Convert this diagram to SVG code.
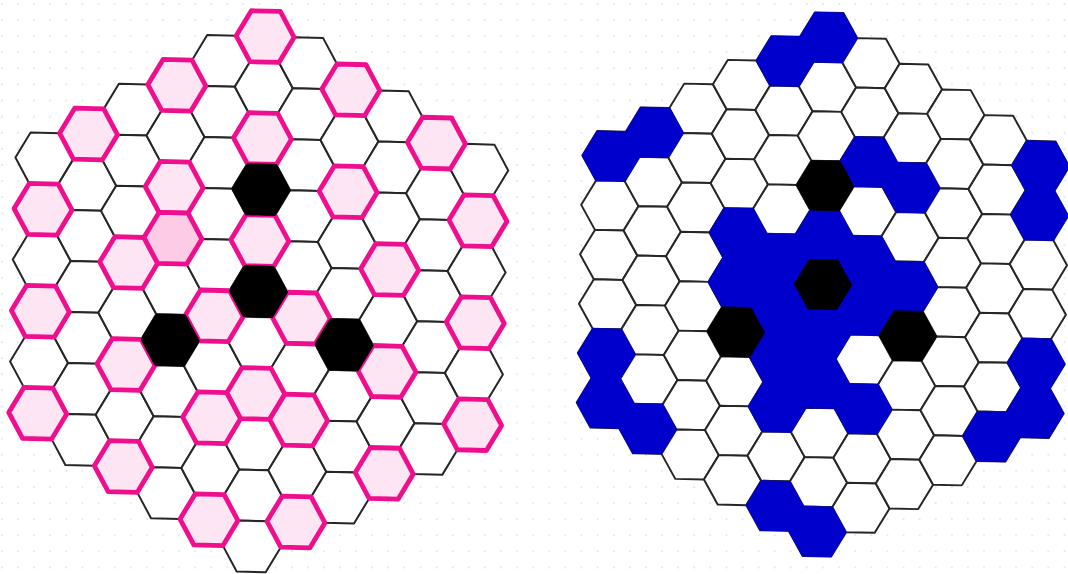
<svg xmlns="http://www.w3.org/2000/svg" xmlns:xlink="http://www.w3.org/1999/xlink" width="1068" height="574" viewBox="0 0 1068 574">
<style>
.w{fill:#ffffff;stroke:#262626;stroke-width:2;stroke-linejoin:round}
.p{fill:#fde5f3;stroke:#ee0e8e;stroke-width:4.8;stroke-linejoin:round}
.pd{fill:#fccbe5;stroke:#ee0e8e;stroke-width:4.8;stroke-linejoin:round}
.k{fill:#000000;stroke:#000000;stroke-width:1}
.b{fill:#0000cc;stroke:#0000cc;stroke-width:1.2;stroke-linejoin:round}
</style>
<defs>
<pattern id="dots" x="1" y="3" width="16.1" height="16.1" patternUnits="userSpaceOnUse">
<circle cx="0.9" cy="0.9" r="0.9" fill="#dedede"/>
</pattern>
<polygon id="h" points="-29,0 -14.5,-25.5 14.5,-25.5 29,0 14.5,25.5 -14.5,25.5"/>
<g id="k6"><use href="#h" class="w" y="-127.5"/><use href="#h" class="w" y="-76.5"/><use href="#h" class="w" y="-25.5"/><use href="#h" class="w" y="25.5"/><use href="#h" class="w" y="76.5"/><use href="#h" class="w" y="127.5"/></g>
<g id="k7"><use href="#h" class="w" y="-153"/><use href="#h" class="w" y="-102"/><use href="#h" class="w" y="-51"/><use href="#h" class="w" y="0"/><use href="#h" class="w" y="51"/><use href="#h" class="w" y="102"/><use href="#h" class="w" y="153"/></g>
<g id="k8"><use href="#h" class="w" y="-178.5"/><use href="#h" class="w" y="-127.5"/><use href="#h" class="w" y="-76.5"/><use href="#h" class="w" y="-25.5"/><use href="#h" class="w" y="25.5"/><use href="#h" class="w" y="76.5"/><use href="#h" class="w" y="127.5"/><use href="#h" class="w" y="178.5"/></g>
<g id="k9"><use href="#h" class="w" y="-204"/><use href="#h" class="w" y="-153"/><use href="#h" class="w" y="-102"/><use href="#h" class="w" y="-51"/><use href="#h" class="w" y="0"/><use href="#h" class="w" y="51"/><use href="#h" class="w" y="102"/><use href="#h" class="w" y="153"/><use href="#h" class="w" y="204"/></g>
<g id="k10"><use href="#h" class="w" y="-229.5"/><use href="#h" class="w" y="-178.5"/><use href="#h" class="w" y="-127.5"/><use href="#h" class="w" y="-76.5"/><use href="#h" class="w" y="-25.5"/><use href="#h" class="w" y="25.5"/><use href="#h" class="w" y="76.5"/><use href="#h" class="w" y="127.5"/><use href="#h" class="w" y="178.5"/><use href="#h" class="w" y="229.5"/></g>
<g id="k11"><use href="#h" class="w" y="-255"/><use href="#h" class="w" y="-204"/><use href="#h" class="w" y="-153"/><use href="#h" class="w" y="-102"/><use href="#h" class="w" y="-51"/><use href="#h" class="w" y="0"/><use href="#h" class="w" y="51"/><use href="#h" class="w" y="102"/><use href="#h" class="w" y="153"/><use href="#h" class="w" y="204"/><use href="#h" class="w" y="255"/></g>
<g id="grid"><use href="#k6" x="-217.5"/><use href="#k7" x="-174"/><use href="#k8" x="-130.5"/><use href="#k9" x="-87"/><use href="#k10" x="-43.5"/><use href="#k11" x="0"/><use href="#k10" x="43.5"/><use href="#k9" x="87"/><use href="#k8" x="130.5"/><use href="#k7" x="174"/><use href="#k6" x="217.5"/></g>
</defs>
<rect width="1068" height="574" fill="#ffffff"/>
<rect width="1068" height="574" fill="url(#dots)"/>

<g id="board-left" transform="translate(258.5,291.5) rotate(1.5)">
<use href="#grid"/>
<g id="left-pink">
<use href="#h" class="p" x="-217.5" y="-76.5"/><use href="#h" class="p" x="-217.5" y="25.5"/><use href="#h" class="p" x="-217.5" y="127.5"/>
<use href="#h" class="p" x="-174" y="-153"/>
<use href="#h" class="p" x="-130.5" y="-25.5"/><use href="#h" class="p" x="-130.5" y="76.5"/><use href="#h" class="p" x="-130.5" y="178.5"/>
<use href="#h" class="p" x="-87" y="-204"/><use href="#h" class="p" x="-87" y="-102"/><use href="#h" class="pd" x="-87" y="-51"/>
<use href="#h" class="p" x="-43.5" y="25.5"/><use href="#h" class="p" x="-43.5" y="127.5"/><use href="#h" class="p" x="-43.5" y="229.5"/>
<use href="#h" class="p" x="0" y="-255"/><use href="#h" class="p" x="0" y="-153"/><use href="#h" class="p" x="0" y="-51"/><use href="#h" class="p" x="0" y="102"/>
<use href="#h" class="p" x="43.5" y="25.5"/><use href="#h" class="p" x="43.5" y="127.5"/><use href="#h" class="p" x="43.5" y="229.5"/>
<use href="#h" class="p" x="87" y="-204"/><use href="#h" class="p" x="87" y="-102"/>
<use href="#h" class="p" x="130.5" y="-25.5"/><use href="#h" class="p" x="130.5" y="76.5"/><use href="#h" class="p" x="130.5" y="178.5"/>
<use href="#h" class="p" x="174" y="-153"/>
<use href="#h" class="p" x="217.5" y="-76.5"/><use href="#h" class="p" x="217.5" y="25.5"/><use href="#h" class="p" x="217.5" y="127.5"/>
</g>
<g id="left-black">
<use href="#h" class="k" x="0" y="-102"/><use href="#h" class="k" x="0" y="0"/><use href="#h" class="k" x="-87" y="51"/><use href="#h" class="k" x="87" y="51"/>
</g>
</g>

<g id="board-right" transform="translate(823,284.5) rotate(1.3) scale(0.988,0.969)">
<use href="#grid"/>
<g id="right-blue">
<use href="#h" class="b" x="-217.5" y="-127.5"/><use href="#h" class="b" x="-217.5" y="76.5"/><use href="#h" class="b" x="-217.5" y="127.5"/>
<use href="#h" class="b" x="-174" y="-153"/><use href="#h" class="b" x="-174" y="153"/>
<use href="#h" class="b" x="-87" y="-51"/><use href="#h" class="b" x="-87" y="0"/>
<use href="#h" class="b" x="-43.5" y="-229.5"/><use href="#h" class="b" x="-43.5" y="-25.5"/><use href="#h" class="b" x="-43.5" y="25.5"/><use href="#h" class="b" x="-43.5" y="76.5"/><use href="#h" class="b" x="-43.5" y="127.5"/><use href="#h" class="b" x="-43.5" y="229.5"/>
<use href="#h" class="b" x="0" y="-255"/><use href="#h" class="b" x="0" y="-51"/><use href="#h" class="b" x="0" y="51"/><use href="#h" class="b" x="0" y="102"/><use href="#h" class="b" x="0" y="255"/>
<use href="#h" class="b" x="43.5" y="-127.5"/><use href="#h" class="b" x="43.5" y="-25.5"/><use href="#h" class="b" x="43.5" y="25.5"/><use href="#h" class="b" x="43.5" y="127.5"/>
<use href="#h" class="b" x="87" y="-102"/><use href="#h" class="b" x="87" y="0"/>
<use href="#h" class="b" x="174" y="153"/>
<use href="#h" class="b" x="217.5" y="-127.5"/><use href="#h" class="b" x="217.5" y="-76.5"/><use href="#h" class="b" x="217.5" y="76.5"/><use href="#h" class="b" x="217.5" y="127.5"/>
</g>
<g id="right-black">
<use href="#h" class="k" x="0" y="-102"/><use href="#h" class="k" x="0" y="0"/><use href="#h" class="k" x="-87" y="51"/><use href="#h" class="k" x="87" y="51"/>
</g>
</g>
</svg>
